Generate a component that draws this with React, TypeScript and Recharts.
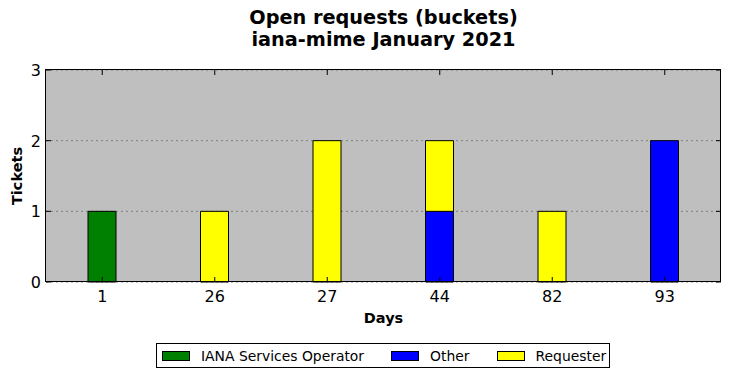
import React from "react";
import { BarChart, Bar, XAxis, YAxis, CartesianGrid } from "recharts";

const days = ["1", "26", "27", "44", "82", "93"];
const ianaServicesOperator = [1, 0, 0, 0, 0, 0];
const other = [0, 0, 0, 1, 0, 2];
const requester = [0, 1, 2, 1, 1, 0];
const yTicks = [0, 1, 2, 3];

const series = [
  { key: "iana", name: "IANA Services Operator", color: "#008000" },
  { key: "other", name: "Other", color: "#0000ff" },
  { key: "requester", name: "Requester", color: "#ffff00" },
];

const FONT = "'DejaVu Sans', sans-serif";
const W = 730;
const H = 378;
const margin = { top: 70, right: 9, left: 0, bottom: 0 };
const Y_AXIS_W = 46;
const X_AXIS_H = 96;
// plot box, derived from the margins above
const plot = {
  left: margin.left + Y_AXIS_W,
  right: W - margin.right,
  top: margin.top,
  bottom: H - margin.bottom - X_AXIS_H,
};
const TICK = 5;

function XTick(p: any) {
  return (
    <g>
      <line x1={p.x} x2={p.x} y1={plot.bottom} y2={plot.bottom - TICK} stroke="#000" />
      <line x1={p.x} x2={p.x} y1={plot.top} y2={plot.top + TICK} stroke="#000" />
      <text
        x={p.x}
        y={plot.bottom + 20}
        textAnchor="middle"
        fontSize={16}
        fontFamily={FONT}
        fill="#000"
      >
        {p.payload.value}
      </text>
    </g>
  );
}

function YTick(p: any) {
  return (
    <g>
      <line x1={plot.left} x2={plot.left + TICK} y1={p.y} y2={p.y} stroke="#000" />
      <line x1={plot.right} x2={plot.right - TICK} y1={p.y} y2={p.y} stroke="#000" />
      <text
        x={plot.left - 5}
        y={p.y}
        dy={6}
        textAnchor="end"
        fontSize={16}
        fontFamily={FONT}
        fill="#000"
      >
        {p.payload.value}
      </text>
    </g>
  );
}

export default function App() {
  const data = days.map((d, i) => ({
    day: d,
    iana: ianaServicesOperator[i],
    other: other[i],
    requester: requester[i],
  }));

  return (
    <div
      style={{
        position: "absolute",
        left: 0,
        top: 0,
        width: W,
        height: H,
        background: "#fff",
        fontFamily: FONT,
      }}
    >
      <div
        style={{
          position: "absolute",
          left: plot.left,
          width: plot.right - plot.left,
          top: 7,
          textAlign: "center",
          fontWeight: "bold",
          fontSize: 19.3,
          lineHeight: "22px",
        }}
      >
        Open requests (buckets)
        <br />
        iana-mime January 2021
      </div>

      <BarChart width={W} height={H} data={data} margin={margin} barSize={28}>
        <CartesianGrid
          vertical={false}
          fill="#bfbfbf"
          stroke="#7f7f7f"
          strokeDasharray="2 3"
        />
        <XAxis
          dataKey="day"
          height={X_AXIS_H}
          tick={<XTick />}
          tickLine={false}
          axisLine={false}
        />
        <YAxis
          width={Y_AXIS_W}
          domain={[0, 3]}
          ticks={yTicks}
          tick={<YTick />}
          tickLine={false}
          axisLine={false}
        />
        {series.map((s) => (
          <Bar
            key={s.key}
            dataKey={s.key}
            name={s.name}
            stackId="a"
            fill={s.color}
            stroke="#000"
            strokeWidth={1}
            isAnimationActive={false}
          />
        ))}
      </BarChart>

      <div
        style={{
          position: "absolute",
          left: plot.left - 1,
          top: plot.top - 1,
          width: plot.right - plot.left + 1,
          height: plot.bottom - plot.top + 1,
          border: "1px solid #000",
          boxSizing: "border-box",
          pointerEvents: "none",
          zIndex: 10,
        }}
      />

      <div
        style={{
          position: "absolute",
          left: 0,
          top: (plot.top + plot.bottom) / 2,
          width: 34,
          transform: "translate(0, -50%)",
          display: "flex",
          justifyContent: "center",
        }}
      >
        <div
          style={{
            transform: "rotate(-90deg)",
            fontWeight: "bold",
            fontSize: 14.5,
            whiteSpace: "nowrap",
          }}
        >
          Tickets
        </div>
      </div>

      <div
        style={{
          position: "absolute",
          left: plot.left,
          width: plot.right - plot.left,
          top: 309,
          textAlign: "center",
          fontWeight: "bold",
          fontSize: 14.5,
          lineHeight: "18px",
        }}
      >
        Days
      </div>

      <div
        style={{
          position: "absolute",
          left: 156,
          top: 343,
          width: 447,
          height: 23,
          border: "1px solid #000",
          display: "flex",
          alignItems: "center",
          paddingLeft: 5,
          boxSizing: "content-box",
          fontSize: 13.9,
          gap: 27,
        }}
      >
        {series.map((s) => (
          <div key={s.key} style={{ display: "flex", alignItems: "center" }}>
            <div
              style={{
                width: 26,
                height: 8,
                background: s.color,
                border: "1px solid #000",
                marginRight: 11,
              }}
            />
            <span>{s.name}</span>
          </div>
        ))}
      </div>
    </div>
  );
}
